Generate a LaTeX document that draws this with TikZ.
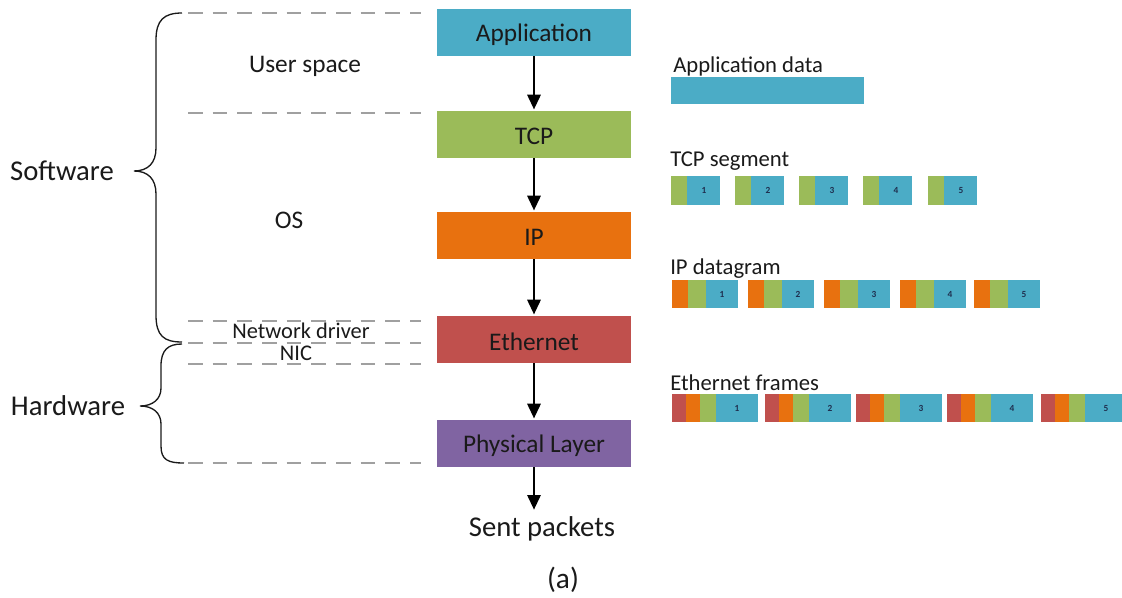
\documentclass[tikz,border=0pt]{standalone}
\usepackage{fontspec}
\setmainfont{Carlito}
\usetikzlibrary{arrows.meta}
\definecolor{appblue}{HTML}{4BACC6}
\definecolor{tcpgreen}{HTML}{9BBB59}
\definecolor{iporange}{HTML}{E8710F}
\definecolor{ethred}{HTML}{C0504D}
\definecolor{phypurple}{HTML}{8064A2}
\definecolor{txt}{HTML}{1A1A1A}
\definecolor{numnavy}{HTML}{1F2F4F}
\definecolor{sepgray}{HTML}{A0A0A0}
\tikzset{
  layer/.style={draw=none, minimum width=145.5pt, minimum height=35.25pt,
    inner sep=0pt, text=txt, font=\fontsize{19}{22}\selectfont},
  lbl/.style={inner sep=0pt, text=txt, font=\fontsize{19}{22}\selectfont},
  flow/.style={line width=1.5pt, -{Triangle[length=11pt,width=10pt]}, shorten >=1pt},
  sepline/.style={sepgray, line width=1.5pt, dash pattern=on 11pt off 7.5pt},
  zone/.style={text=txt, font=\fontsize{19}{22}\selectfont, inner sep=0pt},
  small/.style={text=txt, font=\fontsize{16.8}{19}\selectfont, inner sep=0pt},
  side/.style={text=txt, font=\fontsize{21.5}{24}\selectfont, inner sep=0pt},
  datalabel/.style={text=txt, font=\fontsize{17}{20}\selectfont, inner sep=0pt, anchor=west},
  segnum/.style={text=numnavy, font=\fontsize{7}{8}\selectfont\bfseries, inner sep=0pt},
  brace/.style={line width=1pt, txt}
}
\begin{document}
\begin{tikzpicture}[x=0.75pt,y=-0.75pt]
\useasboundingbox (0,0) rectangle (1122,597);

% protocol stack
\node[layer, fill=appblue]   (app) at (534,32.5)  {};
\node[layer, fill=tcpgreen]  (tcp) at (534,134.5) {};
\node[layer, fill=iporange]  (ip)  at (534,235.5) {};
\node[layer, fill=ethred]    (eth) at (534,339.5) {};
\node[layer, fill=phypurple] (phy) at (534,443.5) {};
\node[lbl] (appt) at (534,34.5)  {Application};
\node[lbl] (tcpt) at (534,136.5) {TCP};
\node[lbl] (ipt)  at (534,237.5) {IP};
\node[lbl] (etht) at (534,341.5) {Ethernet};
\node[lbl] (phyt) at (534,445.5) {Physical Layer};
\coordinate (out) at (534,511);

\draw[flow] (app) -- (tcp);
\draw[flow] (tcp) -- (ip);
\draw[flow] (ip) -- (eth);
\draw[flow] (eth) -- (phy);
\draw[flow] (phy) -- (out);

\node[side] (sent) at (542,529) {Sent packets};
\node[side, font=\fontsize{22}{25}\selectfont] (cap) at (563,580) {(a)};

% layer boundaries
\foreach \y in {13,113,321,343,364,463}
  \draw[sepline] (188,\y) -- (421,\y);

\node[zone]  (user) at (305,66)  {User space};
\node[zone]  (os)   at (289,220) {OS};
\node[small] (drv)  at (301,331) {Network driver};
\node[small] (nic)  at (296,353) {NIC};

% software / hardware braces
\draw[brace] (182,13) .. controls (164,13) and (156,20) .. (156,40) -- (156,148)
  .. controls (156,163) and (148,171) .. (134,171)
  .. controls (148,171) and (156,179) .. (156,194) -- (156,315)
  .. controls (156,336) and (164,342) .. (182,342);
\draw[brace] (182,344) .. controls (168,344) and (161,350) .. (161,366) -- (161,388)
  .. controls (161,399) and (153,406) .. (140,406)
  .. controls (153,406) and (161,413) .. (161,424) -- (161,446)
  .. controls (161,460) and (168,463) .. (184,463);

\node[side] (sw) at (62,171) {Software};
\node[side] (hw) at (68,406) {Hardware};

% encapsulated data units
\node[datalabel] (appdata) at (673,66)  {Application data};
\fill[appblue] (671,77) rectangle (864,104);

\node[datalabel] (tcpseg) at (670,161) {TCP segment};
\foreach \x/\n in {671/1,735/2,799/3,863/4,928/5}{
  \fill[tcpgreen] (\x,176) rectangle ({\x+16},205);
  \fill[appblue] ({\x+16},176) rectangle ({\x+49},205);
  \node[segnum] (tcpn\n) at ({\x+33},190.5) {\n};
}

\node[datalabel] (ipdg) at (670,269) {IP datagram};
\foreach \x/\n in {672/1,748/2,824/3,900/4,974/5}{
  \fill[iporange] (\x,280) rectangle ({\x+16},308);
  \fill[tcpgreen] ({\x+16},280) rectangle ({\x+34},308);
  \fill[appblue] ({\x+34},280) rectangle ({\x+66},308);
  \node[segnum] (ipn\n) at ({\x+50},294) {\n};
}

\node[datalabel] (ethfr) at (670,383) {Ethernet frames};
\foreach \x/\n in {672/1,765/2,856/3,947/4,1041/5}{
  \fill[ethred] (\x,394) rectangle ({\x+14},422);
  \fill[iporange] ({\x+14},394) rectangle ({\x+27.5},422);
  \fill[tcpgreen] ({\x+27.5},394) rectangle ({\x+44},422);
  \fill[appblue] ({\x+44},394) rectangle ({\x+86},422);
  \node[segnum] (ethn\n) at ({\x+65},408) {\n};
}
\end{tikzpicture}
\end{document}
